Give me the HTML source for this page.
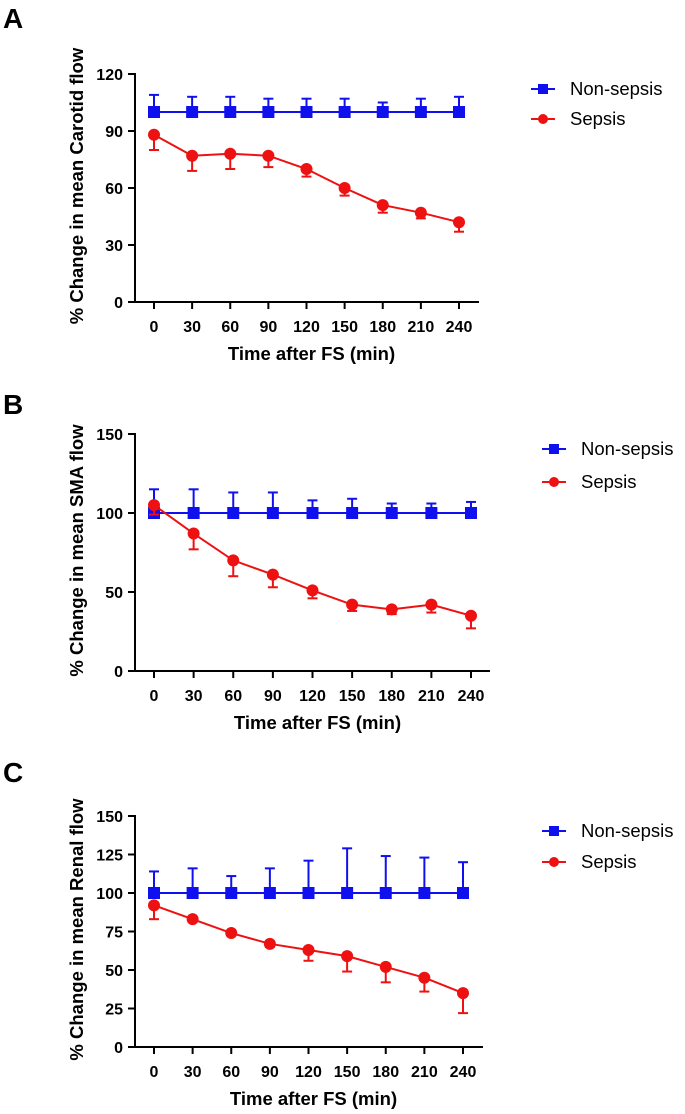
<!DOCTYPE html>
<html><head><meta charset="utf-8"><style>
body{margin:0;background:#fff;}
svg{display:block;font-family:"Liberation Sans",Arial,sans-serif;}
</style></head><body>
<svg id="fig" width="685" height="1114" viewBox="0 0 685 1114"></svg>
<script>
const categories = [0,30,60,90,120,150,180,210,240];
const carotidNonSepsis = [100,100,100,100,100,100,100,100,100];
const carotidNonSepsisErr = [9,8,8,7,7,7,5,7,8];
const carotidSepsis = [88,77,78,77,70,60,51,47,42];
const carotidSepsisErr = [8,8,8,6,4,4,4,3,5];
const smaNonSepsis = [100,100,100,100,100,100,100,100,100];
const smaNonSepsisErr = [15,15,13,13,8,9,6,6,7];
const smaSepsis = [105,87,70,61,51,42,39,42,35];
const smaSepsisErr = [6,10,10,8,5,4,3,5,8];
const renalNonSepsis = [100,100,100,100,100,100,100,100,100];
const renalNonSepsisErr = [14,16,11,16,21,29,24,23,20];
const renalSepsis = [92,83,74,67,63,59,52,45,35];
const renalSepsisErr = [9,1,1,2,7,10,10,9,13];
const ticksA = [0,30,60,90,120];
const ticksB = [0,50,100,150];
const ticksC = [0,25,50,75,100,125,150];

const svg = document.getElementById('fig');
const NS = 'http://www.w3.org/2000/svg';
function mk(tag, attrs, parent){
  const e = document.createElementNS(NS, tag);
  for (const k in attrs) e.setAttribute(k, attrs[k]);
  (parent||svg).appendChild(e);
  return e;
}
function panel(cfg){
  const g = mk('g', {});
  
  
  const ymax = cfg.ticks[cfg.ticks.length-1];
  const sy = v => cfg.y0 + (cfg.ytop - cfg.y0) * v / ymax;
  const sx = v => cfg.x0 + (cfg.x1 - cfg.x0) * v / 240;
  const L = mk('text', {x:3, y:cfg.letterY, 'font-size':28, 'font-weight':'bold', fill:'#000'}, g);
  L.textContent = cfg.letter;
  
  
  const ax = mk('path', {d:`M135 ${cfg.ytop-1} V${cfg.y0} H${cfg.xend}`, stroke:'#000', 'stroke-width':2, fill:'none'}, g);
  
  
  cfg.ticks.forEach(t => {
    const y = sy(t);
    mk('line', {x1:128, x2:135, y1:y, y2:y, stroke:'#000', 'stroke-width':2}, g);
    const tl = mk('text', {x:123, y:y+6, 'text-anchor':'end', 'font-size':16, 'font-weight':'bold'}, g);
    tl.textContent = t;
    
    
  });
  categories.forEach(c => {
    const x = sx(c);
    mk('line', {x1:x, x2:x, y1:cfg.y0, y2:cfg.y0+7, stroke:'#000', 'stroke-width':2}, g);
    const tl = mk('text', {x:x, y:cfg.y0+30, 'text-anchor':'middle', 'font-size':16, 'font-weight':'bold'}, g);
    tl.textContent = c;
    
    
  });
  const xt = mk('text', {x:(cfg.x0+cfg.x1)/2+5, y:cfg.y0+58, 'text-anchor':'middle', 'font-size':18.5, 'font-weight':'bold'}, g);
  xt.textContent = 'Time after FS (min)';
  
  
  const ym = (cfg.ytop + cfg.y0)/2 - 2;
  const yt = mk('text', {x:0, y:0, transform:`translate(83 ${ym}) rotate(-90)`, 'text-anchor':'middle', 'font-size':18.5, 'font-weight':'bold'}, g);
  yt.textContent = cfg.ylabel;
  
  
  function series(vals, errs, color, up, marker, nm){
    const sg = mk('g', {}, g);
    
    
    categories.forEach((c,i) => {
      const x = sx(c), y = sy(vals[i]), ye = sy(vals[i] + (up?errs[i]:-errs[i]));
      mk('line', {x1:x, x2:x, y1:y, y2:ye, stroke:color, 'stroke-width':2}, sg);
      mk('line', {x1:x-5, x2:x+5, y1:ye, y2:ye, stroke:color, 'stroke-width':2}, sg);
    });
    mk('polyline', {points: categories.map((c,i)=>sx(c)+','+sy(vals[i])).join(' '), stroke:color, 'stroke-width':2, fill:'none'}, sg);
    categories.forEach((c,i) => {
      const x = sx(c), y = sy(vals[i]);
      const m = marker==='sq' ? mk('rect', {x:x-6, y:y-6, width:12, height:12, fill:color}, sg) : mk('circle', {cx:x, cy:y, r:6, fill:color}, sg);
      
      
    });
  }
  series(cfg.ns, cfg.nse, '#1010ee', true, 'sq', 'non-sepsis-series');
  series(cfg.s, cfg.se, '#ee1111', false, 'ci', 'sepsis-series');
  [[cfg.legY[0],'#1010ee','sq','Non-sepsis'],[cfg.legY[1],'#ee1111','ci','Sepsis']].forEach(([y,col,mkr,lab]) => {
    const lg = mk('g', {}, g);
    
    
    const lx = cfg.legX;
    mk('line', {x1:lx, x2:lx+24, y1:y, y2:y, stroke:col, 'stroke-width':2}, lg);
    if (mkr==='sq') mk('rect', {x:lx+7, y:y-5, width:10, height:10, fill:col}, lg);
    else mk('circle', {cx:lx+12, cy:y, r:5, fill:col}, lg);
    const t = mk('text', {x:lx+39, y:y+6, 'font-size':18.5}, lg);
    t.textContent = lab;
  });
}
panel({name:'panel-a-carotid', letter:'A', letterY:28, ticks:ticksA, ytop:74, y0:302, x0:154, x1:459, xend:479,
  ylabel:'% Change in mean Carotid flow', ns:carotidNonSepsis, nse:carotidNonSepsisErr, s:carotidSepsis, se:carotidSepsisErr,
  legX:531, legY:[89,119]});
panel({name:'panel-b-sma', letter:'B', letterY:414, ticks:ticksB, ytop:434, y0:671, x0:154, x1:471, xend:490,
  ylabel:'% Change in mean SMA flow', ns:smaNonSepsis, nse:smaNonSepsisErr, s:smaSepsis, se:smaSepsisErr,
  legX:542, legY:[449,482]});
panel({name:'panel-c-renal', letter:'C', letterY:782, ticks:ticksC, ytop:816, y0:1047, x0:154, x1:463, xend:483,
  ylabel:'% Change in mean Renal flow', ns:renalNonSepsis, nse:renalNonSepsisErr, s:renalSepsis, se:renalSepsisErr,
  legX:542, legY:[831,862]});
</script>
</body></html>
